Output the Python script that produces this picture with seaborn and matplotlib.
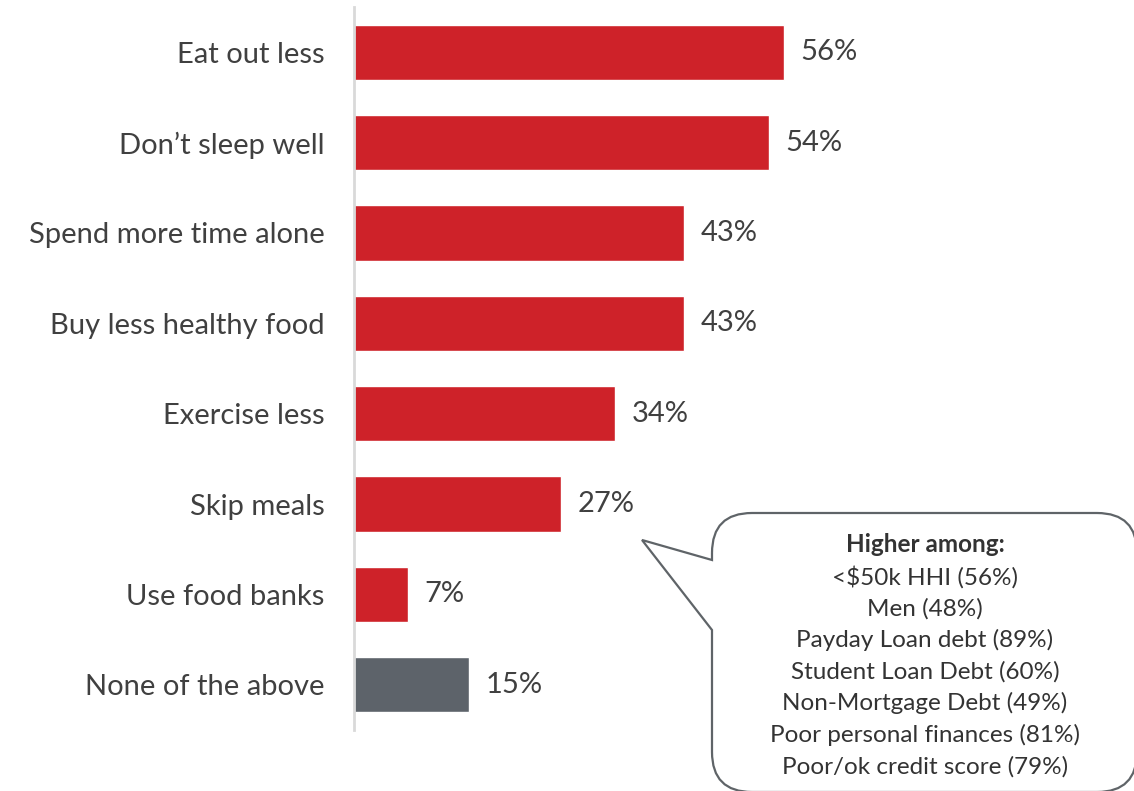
import matplotlib
matplotlib.use("Agg")
import matplotlib.pyplot as plt
import seaborn as sns
import pandas as pd
from matplotlib.path import Path
from matplotlib.patches import PathPatch

categories = ["Eat out less", "Don’t sleep well", "Spend more time alone",
              "Buy less healthy food", "Exercise less", "Skip meals",
              "Use food banks", "None of the above"]
values = [56, 54, 43, 43, 34, 27, 7, 15]
groups = ["main"] * 7 + ["none"]
callout_title = "Higher among:"
callout_lines = ["<$50k HHI (56%)", "Men (48%)", "Payday Loan debt (89%)",
                 "Student Loan Debt (60%)", "Non-Mortgage Debt (49%)",
                 "Poor personal finances (81%)", "Poor/ok credit score (79%)"]

sns.set_theme(style="white")
plt.rcParams["font.family"] = ["Lato", "DejaVu Sans"]

W, H = 1134, 791
fig = plt.figure(figsize=(W / 100, H / 100), dpi=100)
ax = fig.add_axes([354 / W, 61 / H, (W - 354) / W, 723 / H])

df = pd.DataFrame({"category": categories, "value": values, "group": groups})
sns.barplot(data=df, x="value", y="category", hue="group",
            palette={"main": "#CE2229", "none": "#5D636A"},
            width=0.61, dodge=False, legend=False, ax=ax, saturation=1)

ax.set_xlim(0, (W - 354) / 7.68)
ax.set_ylim(7.5, -0.5)
ax.set_xlabel("")
ax.set_ylabel("")
ax.set_xticks([])
for s in ["top", "right", "bottom"]:
    ax.spines[s].set_visible(False)
ax.spines["left"].set_color("#D9D9D9")
ax.spines["left"].set_linewidth(2)
ax.tick_params(axis="y", length=0, pad=21, labelsize=21, labelcolor="#404040")

for c in ax.containers:
    ax.bar_label(c, fmt="%d%%", padding=12, fontsize=21, color="#404040")

# callout bubble (pixel coords -> figure fraction)
L, R, T, B = 712, 1137, H - 513, H - 792
r = 40
tail_top, tail_bot = H - 560, H - 630
tip = (642, H - 540)
verts = [
    (L, T - r), (L, tail_top), tip, (L, tail_bot), (L, B + r),
    (L, B), (L + r, B), (R - r, B), (R, B), (R, B + r),
    (R, T - r), (R, T), (R - r, T), (L + r, T), (L, T), (L, T - r),
]
codes = [Path.MOVETO, Path.LINETO, Path.LINETO, Path.LINETO, Path.LINETO,
         Path.CURVE3, Path.CURVE3, Path.LINETO, Path.CURVE3, Path.CURVE3,
         Path.LINETO, Path.CURVE3, Path.CURVE3, Path.LINETO, Path.CURVE3, Path.CURVE3]
verts = [(x / W, y / H) for x, y in verts]
patch = PathPatch(Path(verts, codes), facecolor="white", edgecolor="#5F6468",
                  linewidth=1.6, transform=fig.transFigure, joinstyle="miter")
fig.add_artist(patch)

cx = 925 / W
fig.text(cx, (H - 545) / H, callout_title, ha="center", va="center",
         fontsize=17.5, fontweight="bold", color="#333333")
for i, line in enumerate(callout_lines):
    fig.text(cx, (H - 577 - i * 31.6) / H, line, ha="center", va="center",
             fontsize=17.5, color="#333333")

fig.savefig("out.png", dpi=100)
